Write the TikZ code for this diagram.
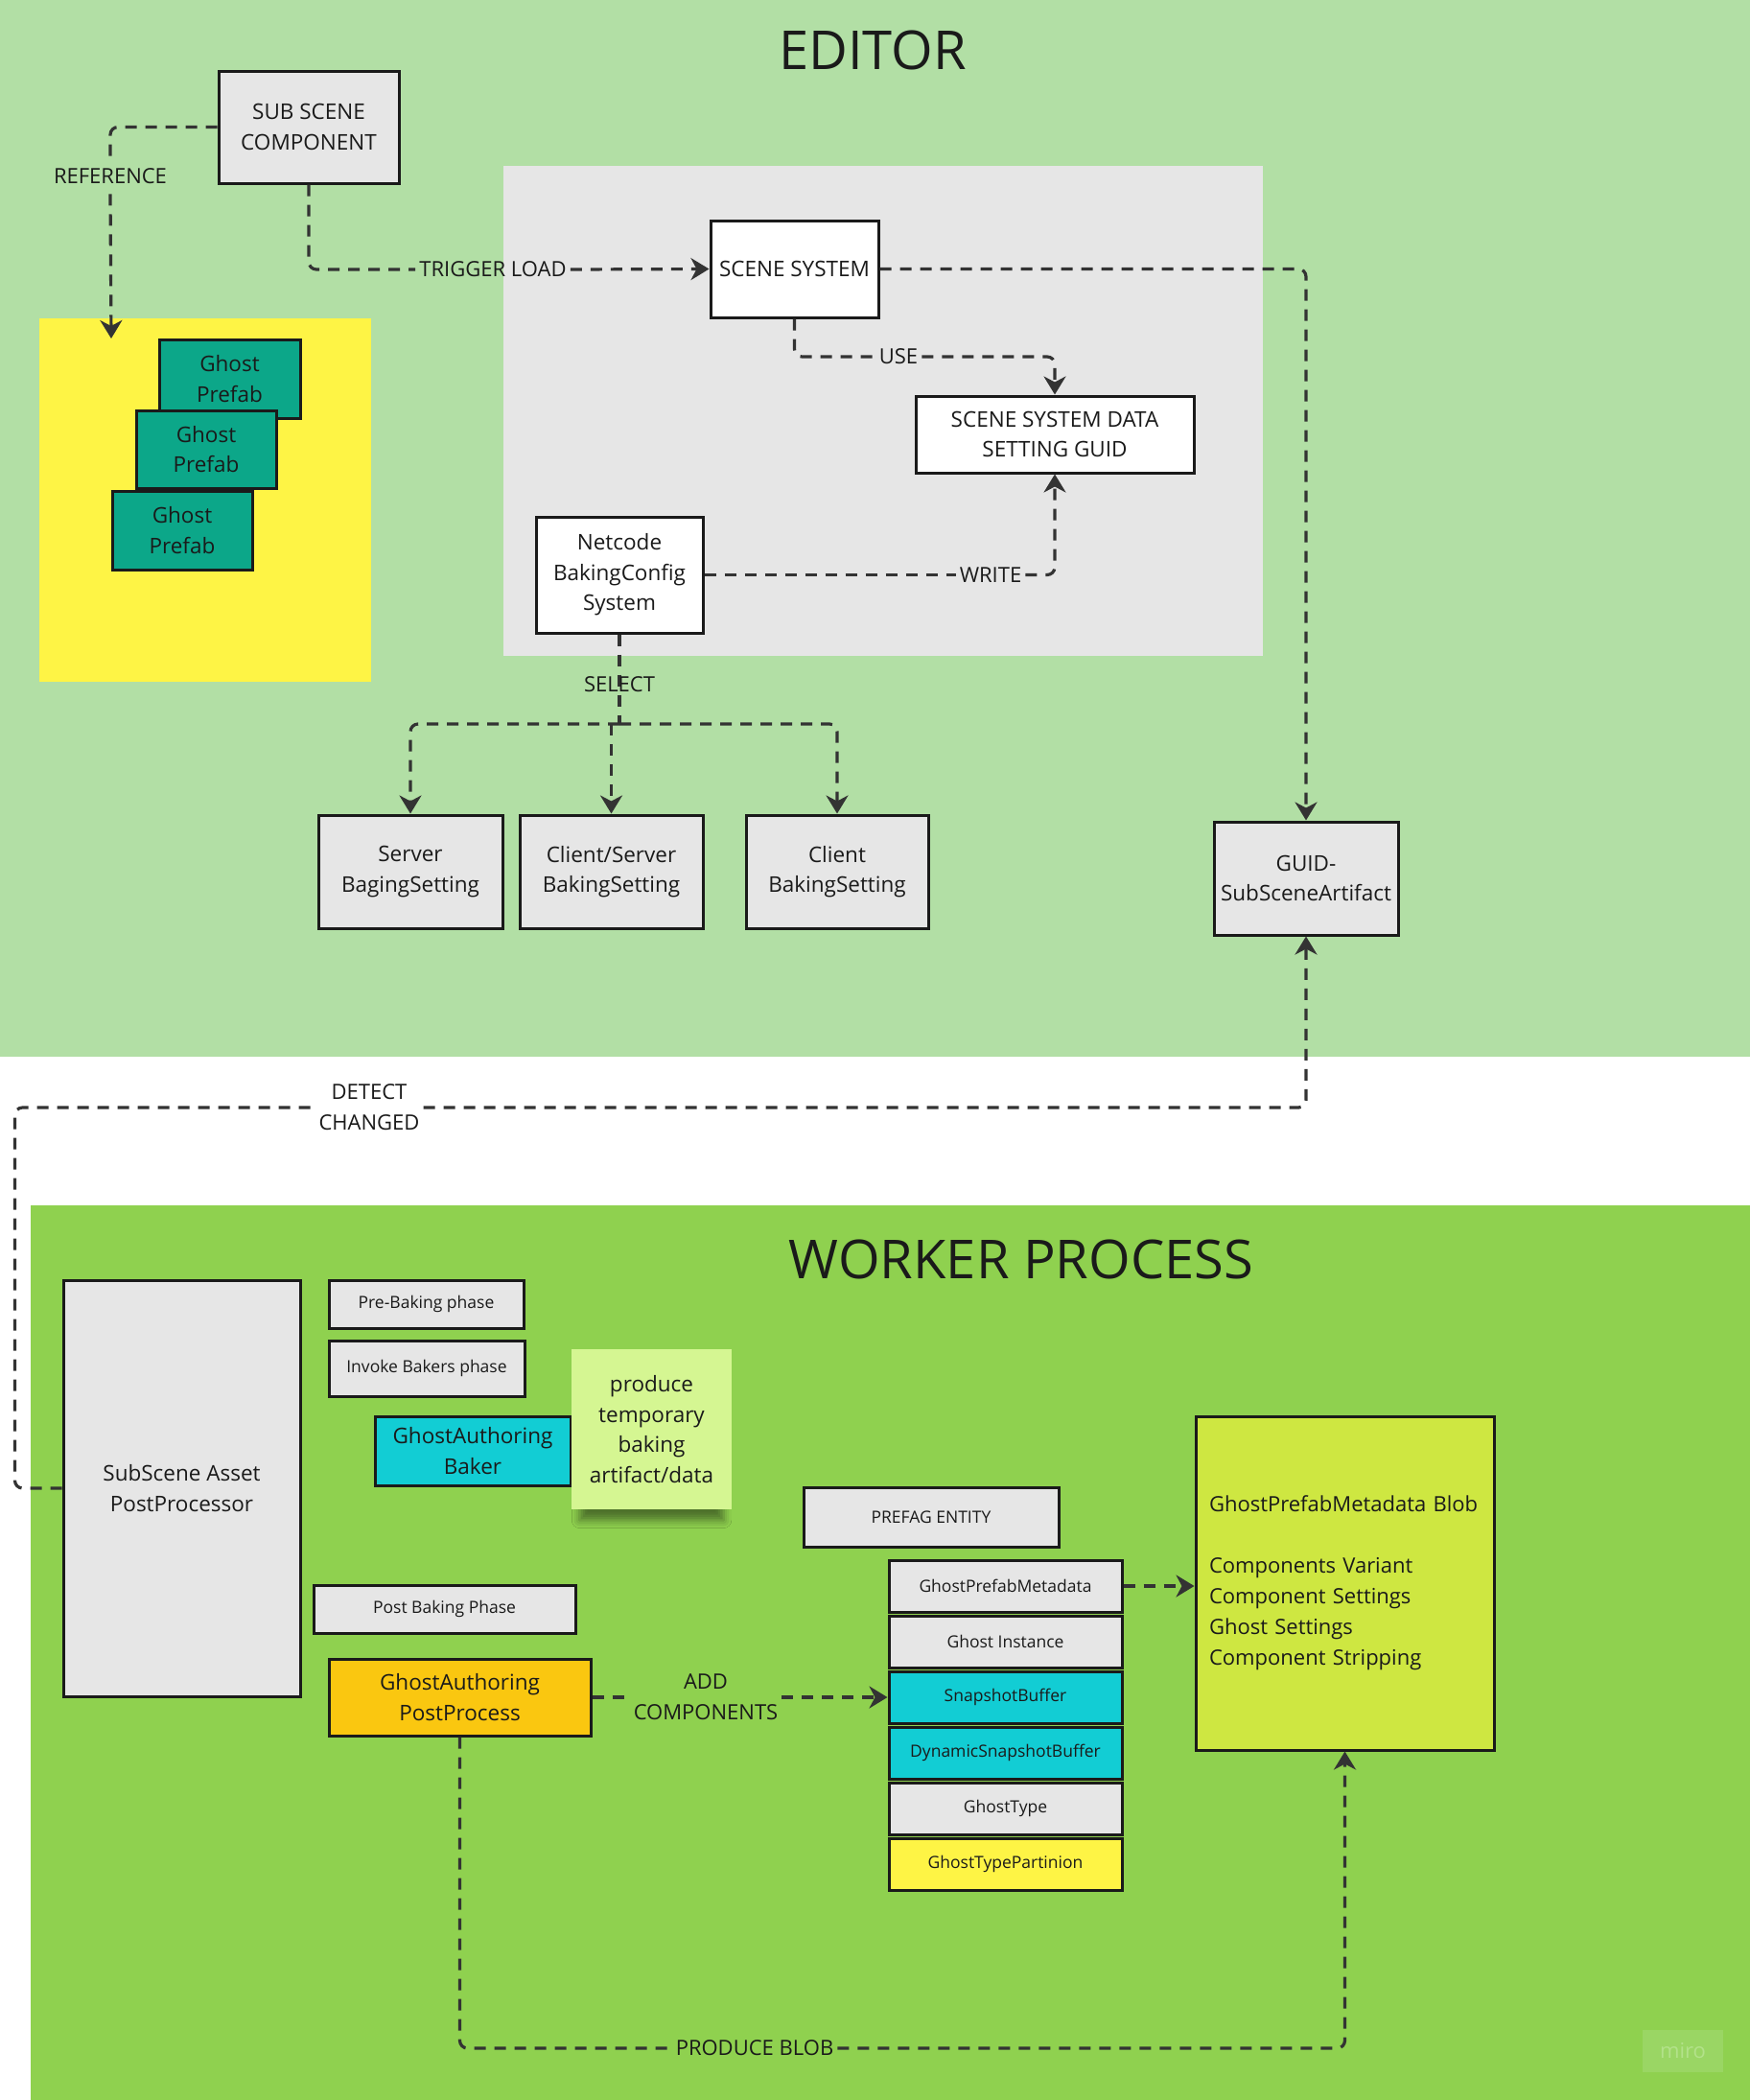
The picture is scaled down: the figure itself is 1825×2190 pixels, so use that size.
\documentclass[tikz,border=0pt]{standalone}
\usepackage{fontspec}
\setmainfont{Open Sans}
\usetikzlibrary{arrows.meta,shadows.blur}

\definecolor{editorbg}{HTML}{B2DFA5}
\definecolor{workerbg}{HTML}{8FD14F}
\definecolor{scenebg}{HTML}{E6E6E6}
\definecolor{prefabbg}{HTML}{FEF445}
\definecolor{boxgrey}{HTML}{E6E6E6}
\definecolor{ghostteal}{HTML}{0CA789}
\definecolor{bakercyan}{HTML}{12CDD4}
\definecolor{postorange}{HTML}{FAC710}
\definecolor{noteyellow}{HTML}{D5F692}
\definecolor{blobgreen}{HTML}{CEE741}
\definecolor{partyellow}{HTML}{FEF445}
\definecolor{inkcol}{HTML}{1A1A1A}
\definecolor{linkcol}{HTML}{333333}
\definecolor{miroback}{HTML}{9AD664}
\definecolor{mirotext}{HTML}{B3E28A}

\newcommand{\titlesize}{\fontsize{56}{66}\selectfont}
\newcommand{\boxsize}{\fontsize{22.5}{31.5}\selectfont}
\newcommand{\smallsize}{\fontsize{17.5}{24}\selectfont}
\newcommand{\linksize}{\fontsize{22}{32}\selectfont}

\begin{document}
\begin{tikzpicture}[x=1pt, y=-1pt,
    box/.style={draw=inkcol, line width=3pt, fill=boxgrey, text=inkcol, align=center, inner sep=0pt, font=\boxsize},
    smallbox/.style={box, font=\smallsize},
    linklabel/.style={text=inkcol, align=center, inner xsep=4pt, inner ysep=10pt, font=\linksize},
    link/.style={draw=linkcol, line width=3.2pt, dash pattern=on 12pt off 9pt, rounded corners=8pt},
    linkarrow/.style={link, -{Stealth[length=19pt, width=23pt, inset=6pt]}}]

% areas
\useasboundingbox (0,0) rectangle (1825,2190);
\fill[white] (0,0) rectangle (1825,2190);
\fill[editorbg] (0,0) rectangle (1825,1102);
\fill[workerbg] (32,1257) rectangle (1825,2190);
\fill[scenebg] (525,173) rectangle (1317,684);
\fill[prefabbg] (41,332) rectangle (387,711);
\coordinate (refend) at (116,353);

\node[font=\titlesize, text=inkcol] (editortitle) at (910,52) {EDITOR};
\node[font=\titlesize, text=inkcol] (workertitle) at (1065,1313) {WORKER PROCESS};

% editor boxes
\node[box, minimum width=188, minimum height=117] (subscene) at (322,132.5) {SUB SCENE\\COMPONENT};
\node[box, fill=white, minimum width=175, minimum height=101] (scenesys) at (828.5,280.5) {SCENE SYSTEM};
\node[box, fill=white, minimum width=290, minimum height=80] (ssdata) at (1100,453) {SCENE SYSTEM DATA\\SETTING GUID};
\node[box, fill=white, minimum width=174, minimum height=121] (netcode) at (646,599.5) {Netcode\\BakingConfig\\System};
\node[box, minimum width=192, minimum height=118] (server) at (428,909) {Server\\BagingSetting};
\node[box, minimum width=191, minimum height=118] (clientserver) at (637.5,909) {Client/Server\\BakingSetting};
\node[box, minimum width=190, minimum height=118] (client) at (873,909) {Client\\BakingSetting};
\node[box, minimum width=192, minimum height=118] (guid) at (1362,916) {GUID-\\SubSceneArtifact};

\node[box, fill=ghostteal, minimum width=147, minimum height=82] (prefab1) at (239.5,395) {Ghost\\Prefab};
\node[box, fill=ghostteal, minimum width=146, minimum height=81] (prefab2) at (215,468.5) {Ghost\\Prefab};
\node[box, fill=ghostteal, minimum width=146, minimum height=82] (prefab3) at (190,553) {Ghost\\Prefab};

% worker boxes
\node[box, minimum width=247, minimum height=434] (postproc) at (189.5,1552) {SubScene Asset\\PostProcessor};
\node[smallbox, minimum width=203, minimum height=50] (prebake) at (444.5,1360) {Pre-Baking phase};
\node[smallbox, minimum width=204, minimum height=58] (invoke) at (445,1427) {Invoke Bakers phase};
\node[box, fill=bakercyan, minimum width=204, minimum height=72] (baker) at (493,1513) {GhostAuthoring\\Baker};
\node[fill=noteyellow, text=inkcol, font=\boxsize, align=center, inner sep=0pt, minimum width=167, minimum height=167,
  blur shadow={shadow xshift=0pt, shadow yshift=-22pt, shadow scale=0.9, shadow blur radius=9pt, shadow opacity=45}]
  (note) at (679.5,1490.5) {produce\\temporary\\baking\\artifact/data};
\node[smallbox, minimum width=273, minimum height=50] (postbake) at (463.5,1678) {Post Baking Phase};
\node[box, fill=postorange, minimum width=273, minimum height=80] (postprocess) at (479.5,1770) {GhostAuthoring\\PostProcess};

\node[smallbox, minimum width=266, minimum height=62] (prefag) at (971,1582) {PREFAG ENTITY};
\node[smallbox, minimum width=243, minimum height=54] (gpm) at (1048.5,1654) {GhostPrefabMetadata};
\node[smallbox, minimum width=243, minimum height=54] (instance) at (1048.5,1712) {Ghost Instance};
\node[smallbox, fill=bakercyan, minimum width=243, minimum height=54] (snap) at (1048.5,1770) {SnapshotBuffer};
\node[smallbox, fill=bakercyan, minimum width=243, minimum height=54] (dynsnap) at (1048.5,1828) {DynamicSnapshotBuffer};
\node[smallbox, minimum width=243, minimum height=54] (ghosttype) at (1048.5,1886) {GhostType};
\node[smallbox, fill=partyellow, minimum width=243, minimum height=54] (partition) at (1048.5,1944) {GhostTypePartinion};

\node[box, fill=blobgreen, font=\linksize, align=left, text width=283, minimum width=311, minimum height=348] (blob) at (1402.5,1651)
  {GhostPrefabMetadata Blob\\[32pt]Components Variant\\Component Settings\\Ghost Settings\\Component Stripping};

\node[fill=miroback, text=mirotext, font=\linksize, inner sep=0pt, minimum width=84, minimum height=44] (miro) at (1755,2139) {miro};

% link labels
\node[linklabel] (reflbl) at (115,184) {REFERENCE};
\node[linklabel] (triglbl) at (514,281) {TRIGGER LOAD};
\node[linklabel] (uselbl) at (937,372) {USE};
\node[linklabel] (writelbl) at (1033,599.5) {WRITE};
\node[linklabel, inner ysep=2pt] (detectlbl) at (385,1155) {DETECT\\CHANGED};
\node[linklabel, inner ysep=2pt] (addlbl) at (736,1770) {ADD\\COMPONENTS};
\node[linklabel] (prodlbl) at (787,2136) {PRODUCE BLOB};
\coordinate (selsplit) at (646,755);

% links
\draw[link] (subscene.west) -| (reflbl.north);
\draw[linkarrow] (reflbl.south) -- (refend);
\draw[link] (subscene.south) |- (triglbl.west);
\draw[linkarrow] (triglbl.east) -- (scenesys.west);
\draw[linkarrow] (scenesys.east) -| (guid.north);
\draw[link] (scenesys.south) |- (uselbl.west);
\draw[linkarrow] (uselbl.east) -| (ssdata.north);
\draw[link] (netcode.east) -- (writelbl.west);
\draw[linkarrow] (writelbl.east) -| (ssdata.south);
\draw[link] (netcode.south) -- (selsplit);
\draw[linkarrow] (selsplit) -| (server.north);
\draw[linkarrow] (clientserver.north |- selsplit) -- (clientserver.north);
\draw[linkarrow] (selsplit) -| (client.north);
\node[linklabel] (selectlbl) at (646,714) {SELECT};

\draw[link] (postproc.west) -- ++(-49,0) |- (detectlbl.west);
\draw[linkarrow] (detectlbl.east) -| (guid.south);
\draw[link] (postprocess.east) -- (addlbl.west);
\draw[linkarrow] (addlbl.east) -- (snap.west);
\draw[linkarrow] (gpm.east) -- (gpm.east -| blob.west);
\draw[link] (postprocess.south) |- (prodlbl.west);
\draw[linkarrow] (prodlbl.east) -| (blob.south);
\end{tikzpicture}
\end{document}
